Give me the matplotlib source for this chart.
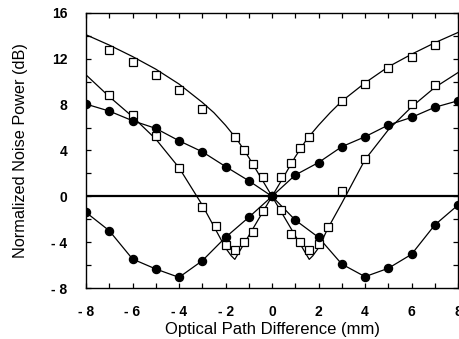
import matplotlib
matplotlib.use("Agg")
import matplotlib.pyplot as plt
from matplotlib.ticker import MultipleLocator, FixedLocator

plt.rcParams['font.family'] = ['Liberation Sans', 'DejaVu Sans']

# Open squares, upper branch
sq1_x = [-7, -6, -5, -4, -3, -1.6, -1.2, -0.8, -0.4, 0.4, 0.8, 1.2, 1.6, 3, 4, 5, 6, 7]
sq1_y = [12.8, 11.7, 10.6, 9.3, 7.6, 5.15, 4.05, 2.82, 1.66, 1.66, 2.88, 4.19, 5.2, 8.32, 9.77, 11.17, 12.18, 13.2]
# Open squares, steep branch
sq2_x = [-7, -6, -5, -4, -3, -2.4, -2, -1.6, -1.2, -0.8, -0.4, 0.4, 0.8, 1.2, 1.6, 2, 2.4, 3, 4, 6, 7]
sq2_y = [8.87, 7.12, 5.26, 2.47, -0.9, -2.59, -4.25, -4.65, -3.96, -3.1, -1.25, -1.22, -3.29, -3.96, -4.66, -4.15, -2.7, 0.49, 3.3, 8.03, 9.71]
# Filled circles
c_x = [-8, -7, -6, -5, -4, -3, -2, -1, 0, 1, 2, 3, 4, 5, 6, 7, 8]
c1_y = [8.05, 7.44, 6.6, 5.93, 4.85, 3.89, 2.6, 1.36, 0, 1.86, 2.95, 4.33, 5.2, 6.22, 6.89, 7.77, 8.34]
c2_y = [-1.4, -3.0, -5.47, -6.34, -7.07, -5.62, -3.58, -1.83, 0, -2.07, -3.58, -5.91, -7.01, -6.28, -5.06, -2.5, -0.76]
# Fitted curves
fit1_x = [-8, -7, -6, -5, -4, -3, -2.5, -2, -1.5, -1, -0.5, 0, 0.5, 1, 1.5, 2, 2.5, 3, 4, 5, 6, 7, 8]
fit1_y = [14.1, 13.2, 12.2, 11.1, 9.8, 8.2, 7.3, 6.2, 4.95, 3.4, 1.7, 0, 1.7, 3.45, 5.0, 6.2, 7.3, 8.3, 9.9, 11.3, 12.4, 13.4, 14.3]
fit2_x = [-8, -7, -6, -5, -4, -3, -2.4, -2, -1.75, -1.6, -0.8, 0, 0.8, 1.6, 1.75, 2, 2.4, 3, 4, 5, 6, 7, 8]
fit2_y = [10.6, 8.7, 6.95, 5.0, 2.5, -0.76, -3.0, -4.5, -5.2, -5.5, -2.75, 0, -2.75, -5.5, -5.2, -4.5, -2.8, -0.6, 3.2, 5.8, 7.8, 9.5, 10.8]

xticks = [-8, -6, -4, -2, 0, 2, 4, 6, 8]
xticklabels = ['- 8', '- 6', '- 4', '- 2', '0', '2', '4', '6', '8']
yticks = [-8, -4, 0, 4, 8, 12, 16]
yticklabels = ['- 8', '- 4', '0', '4', '8', '12', '16']

fig = plt.figure(figsize=(4.6, 3.39), dpi=100)
ax = fig.add_axes([0.187, 0.1504, 0.8087, 0.8113])

ax.axhline(0, color='black', lw=1.6, zorder=2)
ax.plot(fit1_x, fit1_y, color='black', lw=0.9, zorder=3)
ax.plot(fit2_x, fit2_y, color='black', lw=0.9, zorder=3)
ax.plot(c_x, c1_y, color='black', lw=0.9, zorder=3)
ax.plot(c_x, c2_y, color='black', lw=0.9, zorder=3)
ax.plot(sq1_x, sq1_y, ls='none', marker='s', ms=5.3, mfc='white', mec='black', mew=0.9, zorder=4)
ax.plot(sq2_x, sq2_y, ls='none', marker='s', ms=5.3, mfc='white', mec='black', mew=0.9, zorder=4)
ax.plot(c_x, c1_y, ls='none', marker='o', ms=5.8, mfc='black', mec='black', zorder=5)
ax.plot(c_x, c2_y, ls='none', marker='o', ms=5.8, mfc='black', mec='black', zorder=5)

ax.set_xlim(-8, 8)
ax.set_ylim(-8, 16)
ax.xaxis.set_major_locator(FixedLocator(xticks))
ax.set_xticklabels(xticklabels, fontweight='bold')
ax.yaxis.set_major_locator(FixedLocator(yticks))
ax.set_yticklabels(yticklabels, fontweight='bold')
ax.xaxis.set_minor_locator(MultipleLocator(1))
ax.yaxis.set_minor_locator(MultipleLocator(2))
ax.tick_params(which='both', direction='in', top=True, right=True, length=3.5, width=0.9,
               labelsize=10)
ax.tick_params(axis='y', pad=13.5)
ax.tick_params(axis='x', pad=12)
for s in ax.spines.values():
    s.set_linewidth(1.0)

ax.set_xlabel('Optical Path Difference (mm)', fontsize=12)
ax.set_ylabel('Normalized Noise Power (dB)', fontsize=11.7)
ax.xaxis.set_label_coords(0.5, -0.122)
ax.yaxis.set_label_coords(-0.155, 0.5)

fig.savefig('out.png', dpi=100)
